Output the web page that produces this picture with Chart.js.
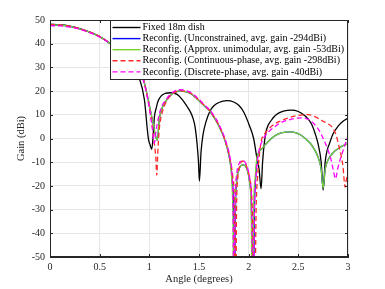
<!DOCTYPE html>
<html>
  <head>
    <script src="https://cdn.jsdelivr.net/npm/chart.js"></script>
    <style>
      html, body { margin: 0; padding: 0; background: #ffffff; }
      #wrap { width: 385px; height: 289px; }
    </style>
  </head>
  <body>
    <div id="wrap"><canvas id="gainChart" width="385" height="289"></canvas></div>

    <script>
      // values (angle in degrees, gain in dBi)
      const xTicks = [0, 0.5, 1, 1.5, 2, 2.5, 3];
      const yTicks = [-50, -40, -30, -20, -10, 0, 10, 20, 30, 40, 50];

      const seriesNames = [
        'Fixed 18m dish',
        'Reconfig. (Unconstrained, avg. gain -294dBi)',
        'Reconfig. (Approx. unimodular, avg. gain -53dBi)',
        'Reconfig. (Continuous-phase, avg. gain -298dBi)',
        'Reconfig. (Discrete-phase, avg. gain -40dBi)'
      ];
      const seriesColors = ['#000000', '#0000ff', '#77d42a', '#ff2a2a', '#ff00ff'];

      const angleFixed = [0, 0.1, 0.2, 0.3, 0.4, 0.5, 0.6, 0.7, 0.8, 0.85, 0.9, 0.95, 0.99, 1.01, 1.024, 1.04, 1.05, 1.07, 1.09, 1.12, 1.16, 1.22, 1.28, 1.33, 1.38, 1.41, 1.44, 1.46, 1.48, 1.495, 1.504, 1.52, 1.54, 1.57, 1.61, 1.65, 1.7, 1.78, 1.85, 1.9, 1.95, 2.01, 2.05, 2.08, 2.105, 2.125, 2.14, 2.16, 2.18, 2.23, 2.28, 2.35, 2.43, 2.5, 2.56, 2.6, 2.635, 2.67, 2.7, 2.73, 2.75, 2.77, 2.79, 2.81, 2.85, 2.9, 2.95, 3.0];
      const gainFixed = [48.2, 48.0, 47.4, 46.4, 44.9, 43.0, 40.2, 36.5, 31.5, 28.5, 25.3, 16.5, 0, -3, -4.6, 2, 8.7, 13, 16, 18, 19, 19.3, 18.6, 16.5, 13.5, 11.5, 8.5, 5, -2, -10, -18, -6, 1.5, 7, 11.5, 13.8, 15.2, 16, 15.4, 14, 11.2, 5.2, 0, -7.5, -13, -21.2, -10, -1, 3.8, 7.8, 10.1, 11.5, 12, 11.4, 9.8, 8.2, 5.9, 2, -2.5, -10, -21.8, -10, -5, -2.5, 2, 5.2, 7.3, 8.6];

      const angleUnconstrained = [0, 0.1, 0.2, 0.3, 0.4, 0.5, 0.6, 0.7, 0.8, 0.85, 0.9, 0.94, 0.97, 1.0, 1.04, 1.06, 1.08, 1.1, 1.13, 1.17, 1.22, 1.27, 1.31, 1.36, 1.41, 1.46, 1.51, 1.56, 1.61, 1.66, 1.7, 1.745, 1.78, 1.81, 1.835, 1.85, 1.857, 1.865, 1.88, 1.9, 1.92, 1.945, 1.97, 1.99, 2.01, 2.028, 2.045, 2.058, 2.07, 2.085, 2.1, 2.13, 2.17, 2.215, 2.27, 2.32, 2.37, 2.42, 2.47, 2.52, 2.57, 2.62, 2.66, 2.7, 2.73, 2.75, 2.77, 2.8, 2.85, 2.9, 2.95, 3.0];
      const gainUnconstrained = [48.0, 47.9, 47.3, 46.3, 44.9, 43.0, 40.3, 36.9, 32.2, 29.5, 28, 25, 20, 14, 6, 1.5, -0.8, 8, 13, 16, 18.5, 19.7, 20.1, 19.8, 19.1, 17.5, 15.5, 13.5, 11.5, 8.3, 5.3, 1, -3.5, -9, -18, -35, -80, -35, -18, -13.5, -11.6, -11.1, -11.8, -14, -18.5, -30, -80, -30, -17, -9, -6, -4.5, -2.5, -0.5, 1.3, 2.3, 2.7, 2.8, 2.5, 1.6, 0, -2, -4.5, -8, -13, -21, -13, -9, -6, -4.3, -3, -2.2];

      const angleApprox = [0, 0.1, 0.2, 0.3, 0.4, 0.5, 0.6, 0.7, 0.8, 0.85, 0.9, 0.94, 0.97, 1.0, 1.04, 1.06, 1.08, 1.1, 1.13, 1.17, 1.22, 1.27, 1.31, 1.36, 1.41, 1.46, 1.51, 1.56, 1.61, 1.66, 1.7, 1.745, 1.78, 1.81, 1.83, 1.842, 1.85, 1.86, 1.878, 1.9, 1.92, 1.945, 1.97, 1.99, 2.01, 2.025, 2.038, 2.05, 2.065, 2.08, 2.1, 2.13, 2.17, 2.215, 2.27, 2.32, 2.37, 2.42, 2.47, 2.52, 2.57, 2.62, 2.66, 2.7, 2.73, 2.75, 2.77, 2.8, 2.85, 2.9, 2.95, 3.0];
      const gainApprox = [48.0, 47.9, 47.3, 46.3, 44.9, 43.0, 40.3, 36.9, 32.2, 29.5, 28, 25, 20, 14, 6, 1.5, -0.8, 8, 13, 16, 18.5, 19.7, 20.1, 19.8, 19.1, 17.5, 15.5, 13.5, 11.5, 8.3, 5.3, 1, -3.5, -9, -18, -35, -80, -35, -18, -13.5, -11.6, -11.1, -11.8, -14, -18.5, -30, -80, -30, -17, -9, -6, -4.5, -2.5, -0.5, 1.3, 2.3, 2.7, 2.8, 2.5, 1.6, 0, -2, -4.5, -8, -13, -21, -13, -9, -6, -4.3, -3, -2.2];

      const angleContinuous = [0, 0.1, 0.2, 0.3, 0.4, 0.5, 0.6, 0.7, 0.8, 0.85, 0.9, 0.94, 0.97, 1.0, 1.03, 1.05, 1.065, 1.075, 1.085, 1.1, 1.13, 1.17, 1.22, 1.27, 1.31, 1.36, 1.41, 1.46, 1.51, 1.56, 1.61, 1.66, 1.7, 1.745, 1.78, 1.81, 1.84, 1.858, 1.868, 1.878, 1.89, 1.91, 1.935, 1.96, 1.985, 2.01, 2.035, 2.06, 2.075, 2.09, 2.11, 2.13, 2.17, 2.22, 2.27, 2.32, 2.4, 2.48, 2.55, 2.6, 2.65, 2.7, 2.75, 2.8, 2.85, 2.88, 2.91, 2.93, 2.95, 2.97, 2.985, 3.0];
      const gainContinuous = [48.0, 47.9, 47.3, 46.3, 44.9, 43.0, 40.3, 36.9, 32.2, 29.5, 28, 25, 19.5, 13, 5, -2, -8, -15.5, -6, 4, 11, 15.5, 18.5, 19.8, 20.2, 20.0, 19.3, 17.7, 15.8, 13.8, 11.7, 8.6, 5.7, 1.4, -3, -8.3, -16, -30, -80, -30, -17, -11.5, -9.5, -10, -12.5, -17, -28, -80, -30, -16, -6, -0.5, 2.5, 4.8, 6.4, 7.4, 8.7, 9.6, 10.0, 10.1, 9.5, 8.5, 7.3, 6.2, 4.2, 1.5, -3.5, -7, -12, -20.5, -17, -15];

      const angleDiscrete = [0, 0.1, 0.2, 0.3, 0.4, 0.5, 0.6, 0.7, 0.8, 0.85, 0.9, 0.94, 0.97, 1.0, 1.03, 1.05, 1.065, 1.09, 1.12, 1.17, 1.22, 1.27, 1.31, 1.36, 1.41, 1.46, 1.51, 1.56, 1.61, 1.66, 1.7, 1.745, 1.78, 1.81, 1.83, 1.843, 1.852, 1.862, 1.88, 1.905, 1.935, 1.96, 1.985, 2.01, 2.03, 2.045, 2.058, 2.075, 2.1, 2.15, 2.2, 2.27, 2.32, 2.4, 2.47, 2.55, 2.6, 2.65, 2.7, 2.75, 2.8, 2.83, 2.855, 2.875, 2.895, 2.92, 2.94, 2.97, 3.0];
      const gainDiscrete = [47.6, 47.5, 47.0, 46.1, 44.7, 42.8, 40.2, 36.8, 32.2, 29.4, 26.5, 24.5, 19.5, 13, 4.5, -2, 2.5, 8.5, 13, 16.5, 19, 20.3, 20.6, 20.3, 19.6, 18, 16.1, 14, 12, 9, 6, 1.8, -2.5, -7.5, -14, -30, -80, -30, -15, -10.5, -9.3, -9.8, -12, -16.5, -28, -80, -30, -15, -6, 0, 2.8, 5.2, 6.6, 7.8, 8.5, 8.7, 8.0, 6.5, 4, 0, -5, -9, -14, -17, -13, -9, -6.5, -2.5, 1];

      const angleSets = [angleFixed, angleUnconstrained, angleApprox, angleContinuous, angleDiscrete];
      const gainSets = [gainFixed, gainUnconstrained, gainApprox, gainContinuous, gainDiscrete];
      const dashSets = [[], [], [], [5, 3], [5, 3]];

      const serif = "'Liberation Serif', 'DejaVu Serif', serif";
      const axisColor = '#262626';

      const datasets = seriesNames.map((name, i) => ({
        label: name,
        data: angleSets[i].map((a, k) => ({ x: a, y: gainSets[i][k] })),
        borderColor: seriesColors[i],
        borderWidth: 1.3,
        borderDash: dashSets[i],
        pointRadius: 0,
        cubicInterpolationMode: 'monotone',
        order: 5 - i
      }));

      // box, inward ticks and legend drawn over the data like MATLAB does
      const overlay = {
        id: 'overlay',
        afterDatasetsDraw(chart) {
          const ctx = chart.ctx;
          const a = chart.chartArea;
          const xs = chart.scales.x, ys = chart.scales.y;
          ctx.save();
          ctx.strokeStyle = axisColor;
          ctx.lineWidth = 1;
          ctx.setLineDash([]);
          ctx.beginPath();
          xTicks.forEach(t => {
            const px = Math.round(xs.getPixelForValue(t)) + 0.5;
            ctx.moveTo(px, a.bottom); ctx.lineTo(px, a.bottom - 3);
            ctx.moveTo(px, a.top); ctx.lineTo(px, a.top + 3);
          });
          yTicks.forEach(t => {
            const py = Math.round(ys.getPixelForValue(t)) + 0.5;
            ctx.moveTo(a.left, py); ctx.lineTo(a.left + 3, py);
            ctx.moveTo(a.right, py); ctx.lineTo(a.right - 3, py);
          });
          ctx.stroke();
          ctx.strokeRect(Math.round(a.left) + 0.5, Math.round(a.top) + 0.5,
                         Math.round(a.right - a.left) - 1, Math.round(a.bottom - a.top) - 1);

          // legend box
          const bx = 110.5, by = Math.round(a.top) + 0.5, bw = Math.round(a.right) - 111, bh = 59;
          ctx.fillStyle = '#ffffff';
          ctx.fillRect(bx, by, bw, bh);
          ctx.strokeRect(bx, by, bw, bh);
          ctx.font = '10px ' + serif;
          ctx.textBaseline = 'middle';
          ctx.textAlign = 'left';
          seriesNames.forEach((name, i) => {
            const y = by + 7 + i * 11.1;
            ctx.strokeStyle = seriesColors[i];
            ctx.lineWidth = 1.4;
            ctx.setLineDash(dashSets[i]);
            ctx.beginPath();
            ctx.moveTo(bx + 2, y); ctx.lineTo(bx + 30, y);
            ctx.stroke();
            ctx.fillStyle = '#000000';
            ctx.fillText(name, bx + 32, y);
          });
          ctx.restore();
        }
      };

      new Chart(document.getElementById('gainChart'), {
        type: 'line',
        data: { datasets },
        options: {
          responsive: false,
          animation: false,
          events: [],
          layout: { padding: { top: 20, right: 37, left: 0, bottom: 0 } },
          plugins: { legend: { display: false }, tooltip: { enabled: false } },
          scales: {
            x: {
              type: 'linear',
              min: 0, max: 3,
              afterFit: s => { s.height = 32; },
              afterBuildTicks: s => { s.ticks = xTicks.map(v => ({ value: v })); },
              grid: { color: '#e6e6e6', drawTicks: false },
              border: { color: axisColor },
              ticks: { color: axisColor, padding: 4, maxRotation: 0, callback: v => String(v), font: { family: serif, size: 10 } },
              title: { display: true, text: 'Angle (degrees)', color: axisColor, padding: { top: 0, bottom: 3 }, font: { family: serif, size: 10.5 } }
            },
            y: {
              min: -50, max: 50,
              afterFit: s => { s.width = 50; },
              afterBuildTicks: s => { s.ticks = yTicks.map(v => ({ value: v })); },
              grid: { color: '#e6e6e6', drawTicks: false },
              border: { color: axisColor },
              ticks: { color: axisColor, padding: 5, callback: v => String(v), font: { family: serif, size: 10 } },
              title: { display: true, text: 'Gain (dBi)', color: axisColor, padding: { top: 15, bottom: 0 }, font: { family: serif, size: 10.5 } }
            }
          }
        },
        plugins: [overlay]
      });
    </script>
  </body>
</html>
